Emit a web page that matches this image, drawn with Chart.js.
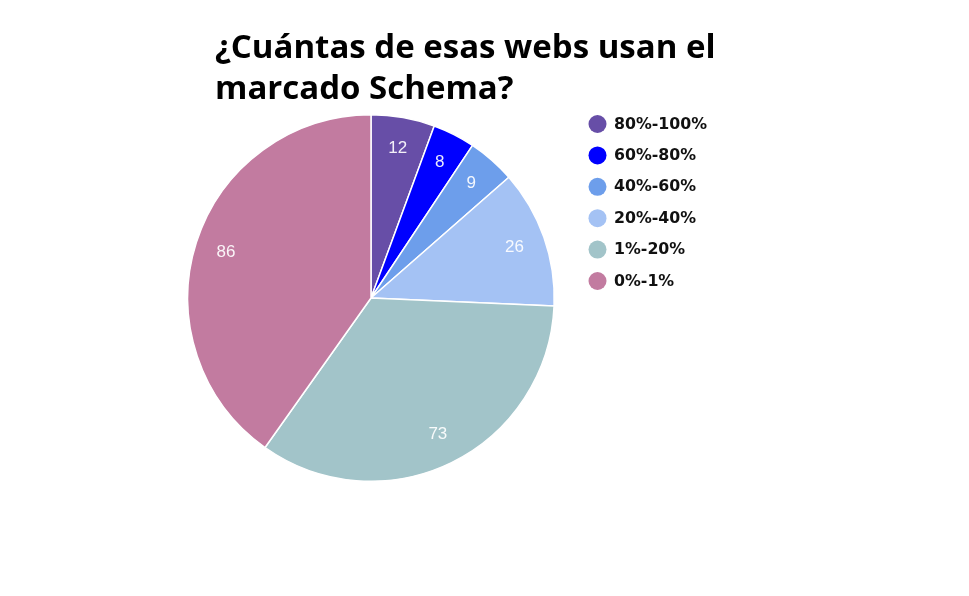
<!DOCTYPE html>
<html lang="es">
<head>
<meta charset="utf-8">
<title>Marcado Schema</title>
<script src="https://cdn.jsdelivr.net/npm/chart.js@4/dist/chart.umd.min.js"></script>
<style>
    html, body { margin: 0; padding: 0; background: #fff; }
    #wrap { position: relative; width: 969px; height: 596px; }
    #title {
        position: absolute;
        left: 215px;
        top: 25px;
        font-family: 'Open Sans', sans-serif;
        font-weight: 700;
        font-size: 33px;
        line-height: 41px;
        color: #000;
        white-space: nowrap;
    }
</style>
</head>
<body>
<div id="wrap">
    <canvas id="schemaChart"></canvas>
    <div id="title">¿Cuántas de esas webs usan el<br>marcado Schema?</div>
</div>
<script>
// categorías y valores
const categories = ['80%-100%', '60%-80%', '40%-60%', '20%-40%', '1%-20%', '0%-1%'];
const webCounts = [12, 8, 9, 26, 73, 86];
const sliceColors = ['#674ea7', '#0000ff', '#6d9eeb', '#a4c2f4', '#a2c4c9', '#c27ba0'];

// números dentro de cada porción
const sliceValues = {
    id: 'sliceValues',
    afterDatasetsDraw(chart) {
        const ctx = chart.ctx;
        const meta = chart.getDatasetMeta(0);
        ctx.save();
        ctx.font = '17px "Liberation Sans", Arial, sans-serif';
        ctx.fillStyle = 'rgba(255, 255, 255, 0.92)';
        ctx.textAlign = 'center';
        ctx.textBaseline = 'middle';
        meta.data.forEach((arc, i) => {
            const { x, y, startAngle, endAngle, outerRadius } =
                arc.getProps(['x', 'y', 'startAngle', 'endAngle', 'outerRadius'], true);
            const mid = (startAngle + endAngle) / 2;
            const r = outerRadius * 0.83;
            ctx.fillText(chart.data.datasets[0].data[i], x + Math.cos(mid) * r, y + Math.sin(mid) * r);
        });
        ctx.restore();
    }
};

// leyenda a la derecha
const sideLegend = {
    id: 'sideLegend',
    afterDraw(chart) {
        const ctx = chart.ctx;
        const colors = chart.data.datasets[0].backgroundColor;
        ctx.save();
        ctx.font = 'bold 15.8px "DejaVu Sans", sans-serif';
        ctx.textBaseline = 'middle';
        ctx.textAlign = 'left';
        chart.data.labels.forEach((label, i) => {
            const cy = 124 + i * 31.4;
            ctx.beginPath();
            ctx.arc(597.5, cy, 9, 0, Math.PI * 2);
            ctx.fillStyle = colors[i];
            ctx.fill();
            ctx.fillStyle = '#111';
            ctx.fillText(label, 614, cy + 0.5);
        });
        ctx.restore();
    }
};

new Chart(document.getElementById('schemaChart'), {
    type: 'pie',
    data: {
        labels: categories,
        datasets: [{
            data: webCounts,
            backgroundColor: sliceColors,
            borderColor: '#ffffff',
            borderWidth: 1.5
        }]
    },
    options: {
        responsive: true,
        maintainAspectRatio: false,
        animation: false,
        events: [],
        layout: {
            padding: { left: 187, right: 414, top: 114, bottom: 114 }
        },
        plugins: {
            legend: { display: false },
            tooltip: { enabled: false }
        }
    },
    plugins: [sliceValues, sideLegend]
});
</script>
</body>
</html>
